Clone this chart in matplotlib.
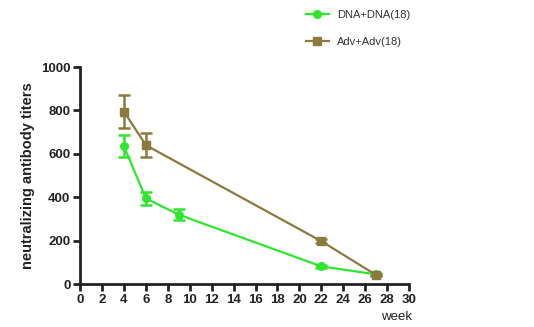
import matplotlib
matplotlib.use("Agg")
import matplotlib.pyplot as plt
from matplotlib.lines import Line2D

plt.rcParams['font.family'] = ['Liberation Sans', 'DejaVu Sans']

dna_weeks = [4, 6, 9, 22, 27]
dna_vals = [635, 395, 320, 82, 45]
dna_err = [50, 30, 25, 8, 5]

adv_weeks = [4, 6, 22, 27]
adv_vals = [795, 640, 198, 42]
adv_err = [75, 55, 10, 5]

xticks = list(range(0, 31, 2))
yticks = [0, 200, 400, 600, 800, 1000]

fig = plt.figure(figsize=(5.34, 3.27), dpi=100)
ax = fig.add_axes([0.150, 0.131, 0.616, 0.664])

green = '#2fe62f'
brown = '#8c7a3c'

ax.errorbar(dna_weeks, dna_vals, yerr=dna_err, color=green, marker='o', markersize=5.5,
            lw=1.6, capsize=4, capthick=1.8, elinewidth=1.8)
ax.errorbar(adv_weeks, adv_vals, yerr=adv_err, color=brown, marker='s', markersize=5.5,
            lw=1.6, capsize=4, capthick=1.8, elinewidth=1.8)

ax.set_xlim(0, 30)
ax.set_ylim(0, 1000)
ax.set_xticks(xticks)
ax.set_yticks(yticks)
for s in ['top', 'right']:
    ax.spines[s].set_visible(False)
for s in ['left', 'bottom']:
    ax.spines[s].set_linewidth(2)
    ax.spines[s].set_color('#222222')
ax.tick_params(width=2, length=5, color='#222222', labelsize=9.5, pad=2)
for lab in ax.get_xticklabels() + ax.get_yticklabels():
    lab.set_fontweight('bold')
    lab.set_color('#222222')

ax.set_ylabel('neutralizing antibody titers', fontsize=10.5, fontweight='bold', color='#222222')
fig.text(0.772, 0.022, 'week', fontsize=9.5, color='#222222', ha='right')

handles = [Line2D([], [], color=green, marker='o', markersize=5.5, lw=1.6),
           Line2D([], [], color=brown, marker='s', markersize=5.5, lw=1.6)]
leg = fig.legend(handles, ['DNA+DNA(18)', 'Adv+Adv(18)'], loc='upper left',
                 bbox_to_anchor=(0.555, 1.0), frameon=False,
                 fontsize=8, handlelength=2.0, labelspacing=1.55)
for t in leg.get_texts():
    t.set_color('#333333')

fig.savefig('out.png', dpi=100)
